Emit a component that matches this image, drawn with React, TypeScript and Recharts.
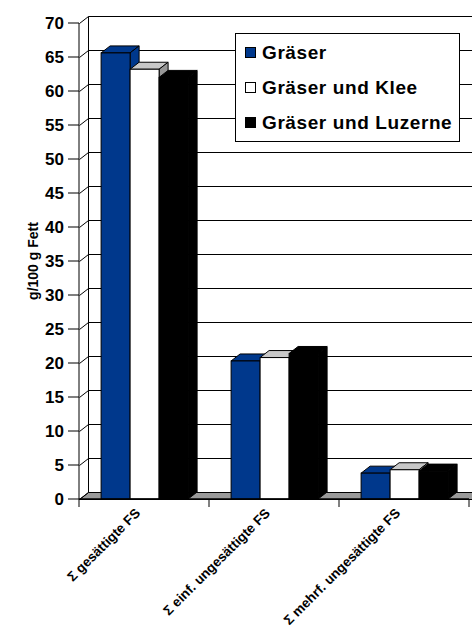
import { BarChart, Bar, XAxis, YAxis, CartesianGrid, Legend } from 'recharts'

// fatty acid groups
const CATEGORIES = ['Σ gesättigte FS', 'Σ einf. ungesättigte FS', 'Σ mehrf. ungesättigte FS']
// g/100 g Fett per feeding
const GRAESER = [65.6, 20.3, 3.8]
const KLEE = [63.2, 20.8, 4.3]
const LUZERNE = [62.0, 21.4, 4.1]
const SERIES_NAMES = ['Gräser', 'Gräser und Klee', 'Gräser und Luzerne']
const Y_TICKS = [0, 5, 10, 15, 20, 25, 30, 35, 40, 45, 50, 55, 60, 65, 70]

const W = 472
const H = 628
const TOP = 23
const X_AXIS_H = 129
const Y_AXIS_W = 79
const RIGHT_M = 3
const BOTTOM = H - X_AXIS_H
const LEFT = Y_AXIS_W
const RIGHT = W - RIGHT_M
const BAND = (RIGHT - LEFT) / CATEGORIES.length
// 3d depth offset
const DX = 9
const DY = 7
const FONT = '"Liberation Sans", Arial, Helvetica, sans-serif'
const LINE = '#000'

const FACES = [
  { front: '#00388c', top: '#00388c', side: '#00388c' },
  { front: '#ffffff', top: '#c8c8c8', side: '#969696' },
  { front: '#000000', top: '#000000', side: '#000000' },
]

const data = CATEGORIES.map((cat, i) => ({
  cat,
  s0: GRAESER[i],
  s1: KLEE[i],
  s2: LUZERNE[i],
}))

const bar3d = (face: { front: string; top: string; side: string }) => (props: any) => {
  const { x, y, width, height } = props
  if (x == null || !height) return <g />
  const w = width
  return (
    <g>
      <polygon
        points={`${x},${y} ${x + DX},${y - DY} ${x + w + DX},${y - DY} ${x + w},${y}`}
        fill={face.top}
        stroke="#000"
        strokeWidth={1}
      />
      <polygon
        points={`${x + w},${y} ${x + w + DX},${y - DY} ${x + w + DX},${y + height - DY} ${x + w},${y + height}`}
        fill={face.side}
        stroke="#000"
        strokeWidth={1}
      />
      <rect x={x} y={y} width={w} height={height} fill={face.front} stroke="#000" strokeWidth={1} />
    </g>
  )
}

const gridLine = (props: any) => {
  const { x1, x2, y1 } = props
  const yf = Math.round(y1) + 0.5
  const yb = yf - DY
  const xl = Math.round(x1) + 0.5
  const isFloor = Math.abs(y1 - BOTTOM) < 1
  return (
    <g key={`grid-${y1}`}>
      {isFloor && (
        <>
          <polygon
            points={`${xl},${yf} ${xl + DX},${yb} ${x2 + DX + 10},${yb} ${x2 + 10},${yf}`}
            fill="#9a9a9a"
            stroke="#000"
            strokeWidth={1}
          />
          <line x1={xl + DX} y1={TOP - DY + 0.5} x2={xl + DX} y2={yb} stroke={LINE} strokeWidth={1} />
        </>
      )}
      <line x1={xl} y1={yf} x2={xl + DX} y2={yb} stroke={LINE} strokeWidth={1} />
      <line x1={xl + DX} y1={yb} x2={x2 + DX + 10} y2={yb} stroke={LINE} strokeWidth={1} />
    </g>
  )
}

const CategoryTick = (props: any) => {
  const { x, y, payload, index } = props
  const last = index === CATEGORIES.length - 1
  return (
    <g>
      <line x1={x - BAND / 2} y1={y} x2={x - BAND / 2} y2={y + 8} stroke="#000" />
      {last && <line x1={x + BAND / 2} y1={y} x2={x + BAND / 2} y2={y + 8} stroke="#000" />}
      <text
        transform={`translate(${x - 3},${y + 15}) rotate(-45)`}
        textAnchor="end"
        fontFamily={FONT}
        fontSize={13.5}
        fontWeight="bold"
        fill="#000"
      >
        {payload.value}
      </text>
    </g>
  )
}

const YLabel = (props: any) => {
  const vb = props.viewBox || { x: 0, y: TOP, height: BOTTOM - TOP }
  const cx = vb.x + 38
  const cy = vb.y + vb.height / 2
  return (
    <text
      x={cx}
      y={cy}
      transform={`rotate(-90, ${cx}, ${cy})`}
      textAnchor="middle"
      fontFamily={FONT}
      fontSize={14}
      fontWeight="bold"
      fill="#000"
    >
      g/100 g Fett
    </text>
  )
}

const LegendBox = (props: any) => {
  const items = props.payload || []
  return (
    <div
      style={{
        boxSizing: 'border-box',
        width: 225,
        height: 109,
        border: '1px solid #000',
        background: '#fff',
        paddingTop: 1,
        paddingLeft: 9,
        fontFamily: FONT,
      }}
    >
      {items.map((it: any, i: number) => (
        <div key={it.value} style={{ height: 35, display: 'flex', alignItems: 'center' }}>
          <span
            style={{
              display: 'inline-block',
              boxSizing: 'border-box',
              width: 11,
              height: 11,
              border: '1px solid #000',
              background: FACES[i].front,
              marginRight: 6,
            }}
          />
          <span
            style={{
              fontSize: 19,
              fontWeight: 'bold',
              letterSpacing: 0.6,
              color: '#000',
              whiteSpace: 'nowrap',
            }}
          >
            {it.value}
          </span>
        </div>
      ))}
    </div>
  )
}

export default function App() {
  return (
    <div style={{ position: 'absolute', left: 0, top: 0, width: W, height: H, background: '#fff' }}>
      <BarChart
        width={W}
        height={H}
        data={data}
        margin={{ top: TOP, right: RIGHT_M, bottom: 0, left: 0 }}
        barCategoryGap="17%"
        barGap={0}
      >
        <CartesianGrid vertical={false} horizontal={gridLine} />
        <XAxis
          dataKey="cat"
          interval={0}
          height={X_AXIS_H}
          tickLine={false}
          tickSize={0}
          tickMargin={0}
          tick={<CategoryTick />}
          axisLine={{ stroke: '#000', strokeWidth: 1.5 }}
        />
        <YAxis
          width={Y_AXIS_W}
          domain={[0, 70]}
          ticks={Y_TICKS}
          interval={0}
          tickSize={11}
          tickMargin={4}
          axisLine={{ stroke: '#000' }}
          tickLine={{ stroke: '#000' }}
          tick={{ fontFamily: FONT, fontSize: 17, fontWeight: 'bold', fill: '#000' }}
          label={YLabel}
        />
        <Legend
          layout="vertical"
          align="center"
          verticalAlign="middle"
          wrapperStyle={{ left: 235, top: 33, width: 225, height: 109 }}
          content={LegendBox}
        />
        {SERIES_NAMES.map((name, i) => (
          <Bar
            key={name}
            dataKey={`s${i}`}
            name={name}
            fill={FACES[i].front}
            shape={bar3d(FACES[i])}
            isAnimationActive={false}
          />
        ))}
      </BarChart>
    </div>
  )
}
